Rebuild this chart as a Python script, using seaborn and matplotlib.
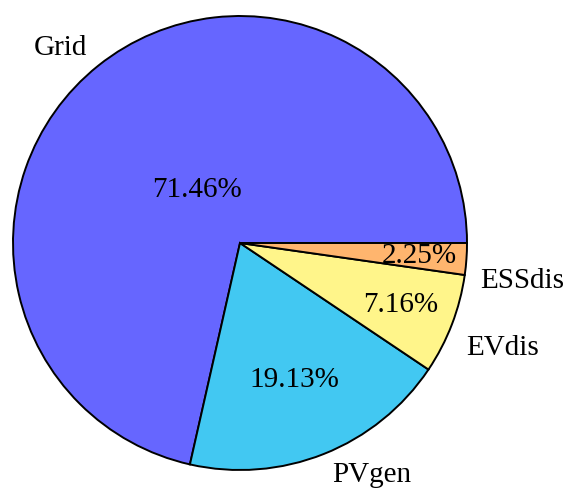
import numpy as np
import matplotlib
matplotlib.use("Agg")
import matplotlib.pyplot as plt
import seaborn as sns

# Energy supply shares
categories = ["Grid", "PVgen", "EVdis", "ESSdis"]
shares = [71.46, 19.13, 7.16, 2.25]
colors = ["#6666FF", "#42C8F2", "#FFF58A", "#FFB56E"]

sns.set_theme(style="white")
plt.rcParams["font.family"] = ["Liberation Serif", "DejaVu Serif"]

fig = plt.figure(figsize=(5.63, 4.91), dpi=100)
ax = fig.add_axes([13 / 563, 21 / 491, 454 / 563, 454 / 491])

wedges, texts, autotexts = ax.pie(
    shares,
    labels=categories,
    colors=colors,
    startangle=0,
    counterclock=True,
    autopct="%.2f%%",
    labeldistance=1.1,
    wedgeprops=dict(edgecolor="black", linewidth=1.4),
    textprops=dict(fontsize=21, color="black"),
)

# place percentage text per wedge
pct_dist = [0.30, 0.65, 0.76, 0.79]
for w, t, d in zip(wedges, autotexts, pct_dist):
    mid = np.deg2rad((w.theta1 + w.theta2) / 2)
    t.set_position((d * np.cos(mid), d * np.sin(mid)))

# outer label placement (radius, angle shift in degrees)
lab_adj = [(1.09, -0.5), (1.1, 0.0), (1.1, -4.0), (1.07, -5.0)]
for w, t, (r, da) in zip(wedges, texts, lab_adj):
    mid = np.deg2rad((w.theta1 + w.theta2) / 2 + da)
    t.set_position((r * np.cos(mid), r * np.sin(mid)))
    t.set_ha("left" if np.cos(mid) > 0 else "right")

ax.set_xlim(-1, 1)
ax.set_ylim(-1, 1)
ax.set_aspect("equal")
ax.axis("off")

fig.savefig("out.png", dpi=100, facecolor="white")
